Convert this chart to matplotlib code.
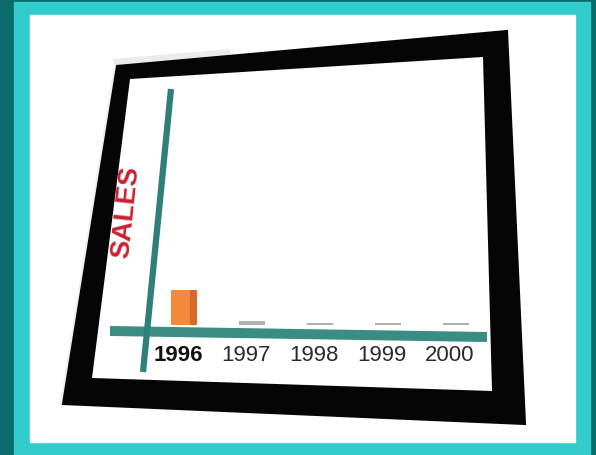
import matplotlib
matplotlib.use("Agg")
import matplotlib.pyplot as plt
from matplotlib.patches import Polygon, Rectangle
from matplotlib.transforms import ScaledTranslation

# ---- data ----
years = ["1996", "1997", "1998", "1999", "2000"]
sales = [15, 1.5, 1.0, 0.8, 1.0]
bar_colors = ["#f5893a", "#a9b3b1", "#a9b3b1", "#a9b3b1", "#a9b3b1"]
axis_label = "SALES"

W, H = 596, 456
fig = plt.figure(figsize=(W / 100, H / 100), dpi=100)

# overlay axes in pixel coordinates for the decorative picture frame
ax0 = fig.add_axes([0, 0, 1, 1])
ax0.set_xlim(0, W)
ax0.set_ylim(H, 0)
ax0.axis("off")

ax0.add_patch(Rectangle((0, 0), W, H, color="#0b6b6b", zorder=0))
ax0.add_patch(Rectangle((14, 3), 576, 453, color="#33cccc", zorder=1))
ax0.add_patch(Rectangle((30, 16), 545, 427, color="#ffffff", zorder=2))

# faint shadow of frame
ax0.add_patch(Polygon([(112, 60), (230, 50), (230, 60), (117, 70)],
                      closed=True, color="#c8c8c8", alpha=0.35, lw=0, zorder=3))
ax0.add_patch(Polygon([(60, 405), (113, 72), (117, 70), (63, 405)],
                      closed=True, color="#d0d0d0", alpha=0.3, lw=0, zorder=3))

# black frame (outer minus inner)
outer = [(117, 67), (507, 32), (525, 425), (63, 405)]
inner = [(130, 80), (483, 58), (492, 392), (92, 379)]
ax0.add_patch(Polygon(outer, closed=True, color="#050505", lw=1.5, zorder=4))
ax0.add_patch(Polygon(inner, closed=True, color="#ffffff", lw=0, zorder=5))

# chart axes lines (teal)
ax0.add_patch(Polygon([(110, 327), (487, 333), (487, 343), (110, 337)],
                      closed=True, color="#3a8d83", lw=0, zorder=6))
ax0.plot([171, 143], [90, 373], color="#2f7f7a", lw=4.5,
         solid_capstyle="butt", zorder=7)

ax0.text(126, 212, axis_label, rotation=84, ha="center", va="center",
         fontsize=20, fontweight="bold", color="#cc2233",
         family=["Liberation Sans", "DejaVu Sans"], zorder=8)

# bar chart axes
left_px, right_px, base_px, top_px = 110, 487, 326, 90
ax = fig.add_axes([left_px / W, 1 - base_px / H,
                   (right_px - left_px) / W, (base_px - top_px) / H])
ax.set_zorder(10)
ax.patch.set_alpha(0)
x = list(range(len(years)))
ax.bar(x, sales, width=0.37, color=bar_colors, edgecolor="none")
# darker right side of the 3D-looking first bar
ax.bar([x[0] + 0.14], [sales[0]], width=0.09, color="#d9692a", edgecolor="none")
ax.set_xlim(-1.088, 4.456)
ax.set_ylim(0, 100)
ax.set_yticks([])
ax.set_xticks(x)
ax.set_xticklabels(years, family=["Liberation Sans", "DejaVu Sans"],
                   fontsize=16, color="#2a2a2a")
ax.get_xticklabels()[0].set_fontweight("bold")
ax.get_xticklabels()[0].set_color("#111111")
ax.tick_params(axis="x", length=0, pad=14)
shift = ScaledTranslation(-6 / 100, 0, fig.dpi_scale_trans)
for lab in ax.get_xticklabels():
    lab.set_transform(lab.get_transform() + shift)
for s in ax.spines.values():
    s.set_visible(False)

fig.savefig("out.png", dpi=100)
